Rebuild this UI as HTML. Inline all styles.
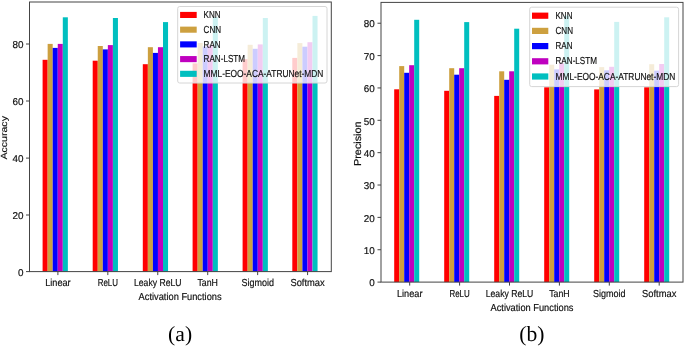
<!DOCTYPE html>
<html><head><meta charset="utf-8"><style>
html,body{margin:0;padding:0;background:#fff;}
body{width:685px;height:347px;overflow:hidden;}
svg{display:block;font-family:"Liberation Sans", sans-serif;filter:blur(0.35px);}
</style></head><body>
<svg width="685" height="347" viewBox="0 0 685 347" text-rendering="geometricPrecision">
<rect x="0" y="0" width="685" height="347" fill="#fff"/>
<rect x="42.60" y="59.80" width="5.05" height="211.80" fill="#ff0000"/>
<rect x="47.65" y="43.90" width="5.05" height="227.70" fill="#cda03f"/>
<rect x="52.70" y="47.90" width="5.05" height="223.70" fill="#0000ff"/>
<rect x="57.75" y="43.90" width="5.05" height="227.70" fill="#bf00bf"/>
<rect x="62.80" y="17.30" width="5.05" height="254.30" fill="#00bfbf"/>
<rect x="92.70" y="60.70" width="5.05" height="210.90" fill="#ff0000"/>
<rect x="97.75" y="46.00" width="5.05" height="225.60" fill="#cda03f"/>
<rect x="102.80" y="49.40" width="5.05" height="222.20" fill="#0000ff"/>
<rect x="107.85" y="45.10" width="5.05" height="226.50" fill="#bf00bf"/>
<rect x="112.90" y="18.00" width="5.05" height="253.60" fill="#00bfbf"/>
<rect x="142.80" y="64.20" width="5.05" height="207.40" fill="#ff0000"/>
<rect x="147.85" y="47.20" width="5.05" height="224.40" fill="#cda03f"/>
<rect x="152.90" y="52.90" width="5.05" height="218.70" fill="#0000ff"/>
<rect x="157.95" y="47.20" width="5.05" height="224.40" fill="#bf00bf"/>
<rect x="163.00" y="22.10" width="5.05" height="249.50" fill="#00bfbf"/>
<rect x="192.60" y="63.40" width="5.05" height="208.20" fill="#ff0000"/>
<rect x="197.65" y="43.00" width="5.05" height="228.60" fill="#cda03f"/>
<rect x="202.70" y="46.50" width="5.05" height="225.10" fill="#0000ff"/>
<rect x="207.75" y="45.10" width="5.05" height="226.50" fill="#bf00bf"/>
<rect x="212.80" y="17.10" width="5.05" height="254.50" fill="#00bfbf"/>
<rect x="242.60" y="59.20" width="5.05" height="212.40" fill="#ff0000"/>
<rect x="247.65" y="44.80" width="5.05" height="226.80" fill="#cda03f"/>
<rect x="252.70" y="48.80" width="5.05" height="222.80" fill="#0000ff"/>
<rect x="257.75" y="44.40" width="5.05" height="227.20" fill="#bf00bf"/>
<rect x="262.80" y="18.00" width="5.05" height="253.60" fill="#00bfbf"/>
<rect x="292.30" y="57.90" width="5.05" height="213.70" fill="#ff0000"/>
<rect x="297.35" y="43.10" width="5.05" height="228.50" fill="#cda03f"/>
<rect x="302.40" y="46.70" width="5.05" height="224.90" fill="#0000ff"/>
<rect x="307.45" y="42.20" width="5.05" height="229.40" fill="#bf00bf"/>
<rect x="312.50" y="15.90" width="5.05" height="255.70" fill="#00bfbf"/>
<rect x="29.5" y="2.0" width="301.8" height="269.6" fill="none" stroke="#444" stroke-width="1"/>
<line x1="26.0" y1="271.6" x2="29.5" y2="271.6" stroke="#444" stroke-width="1"/>
<text x="23.6" y="275.80" text-anchor="end" font-size="9.9" fill="#111" stroke="#111" stroke-width="0.18">0</text>
<line x1="26.0" y1="215.0" x2="29.5" y2="215.0" stroke="#444" stroke-width="1"/>
<text x="23.6" y="219.20" text-anchor="end" font-size="9.9" fill="#111" stroke="#111" stroke-width="0.18">20</text>
<line x1="26.0" y1="158.1" x2="29.5" y2="158.1" stroke="#444" stroke-width="1"/>
<text x="23.6" y="162.30" text-anchor="end" font-size="9.9" fill="#111" stroke="#111" stroke-width="0.18">40</text>
<line x1="26.0" y1="101.0" x2="29.5" y2="101.0" stroke="#444" stroke-width="1"/>
<text x="23.6" y="105.20" text-anchor="end" font-size="9.9" fill="#111" stroke="#111" stroke-width="0.18">60</text>
<line x1="26.0" y1="44.0" x2="29.5" y2="44.0" stroke="#444" stroke-width="1"/>
<text x="23.6" y="48.20" text-anchor="end" font-size="9.9" fill="#111" stroke="#111" stroke-width="0.18">80</text>
<line x1="57.9" y1="271.6" x2="57.9" y2="275.1" stroke="#444" stroke-width="1"/>
<text x="57.9" y="286.2" text-anchor="middle" font-size="10.1" fill="#111" stroke="#111" stroke-width="0.18" textLength="25.5" lengthAdjust="spacingAndGlyphs">Linear</text>
<line x1="107.84" y1="271.6" x2="107.84" y2="275.1" stroke="#444" stroke-width="1"/>
<text x="107.84" y="286.2" text-anchor="middle" font-size="10.1" fill="#111" stroke="#111" stroke-width="0.18" textLength="20.3" lengthAdjust="spacingAndGlyphs">ReLU</text>
<line x1="157.78" y1="271.6" x2="157.78" y2="275.1" stroke="#444" stroke-width="1"/>
<text x="157.78" y="286.2" text-anchor="middle" font-size="10.1" fill="#111" stroke="#111" stroke-width="0.18" textLength="47.5" lengthAdjust="spacingAndGlyphs">Leaky ReLU</text>
<line x1="207.72" y1="271.6" x2="207.72" y2="275.1" stroke="#444" stroke-width="1"/>
<text x="207.72" y="286.2" text-anchor="middle" font-size="10.1" fill="#111" stroke="#111" stroke-width="0.18" textLength="20.5" lengthAdjust="spacingAndGlyphs">TanH</text>
<line x1="257.65999999999997" y1="271.6" x2="257.65999999999997" y2="275.1" stroke="#444" stroke-width="1"/>
<text x="257.65999999999997" y="286.2" text-anchor="middle" font-size="10.1" fill="#111" stroke="#111" stroke-width="0.18" textLength="32.5" lengthAdjust="spacingAndGlyphs">Sigmoid</text>
<line x1="307.59999999999997" y1="271.6" x2="307.59999999999997" y2="275.1" stroke="#444" stroke-width="1"/>
<text x="307.59999999999997" y="286.2" text-anchor="middle" font-size="10.1" fill="#111" stroke="#111" stroke-width="0.18" textLength="34.3" lengthAdjust="spacingAndGlyphs">Softmax</text>
<text x="180.1" y="299.8" text-anchor="middle" font-size="10.1" fill="#111" stroke="#111" stroke-width="0.18" textLength="83" lengthAdjust="spacingAndGlyphs">Activation Functions</text>
<text transform="translate(7.4,137.8) rotate(-90) scale(1,0.88)" x="0" y="0" text-anchor="middle" font-size="10.1" fill="#111" stroke="#111" stroke-width="0.18" textLength="43.5" lengthAdjust="spacingAndGlyphs">Accuracy</text>
<rect x="177.7" y="6.5" width="149.3" height="76.5" rx="2" ry="2" fill="#fff" fill-opacity="0.8" stroke="#d6d6d6" stroke-width="1"/>
<rect x="180.1" y="11.90" width="16.599999999999994" height="6.1" fill="#ff0000"/>
<text x="203.6" y="18.10" font-size="10.1" fill="#111" stroke="#111" stroke-width="0.18" textLength="17" lengthAdjust="spacingAndGlyphs">KNN</text>
<rect x="180.1" y="26.62" width="16.599999999999994" height="6.1" fill="#cda03f"/>
<text x="203.6" y="32.82" font-size="10.1" fill="#111" stroke="#111" stroke-width="0.18" textLength="17.5" lengthAdjust="spacingAndGlyphs">CNN</text>
<rect x="180.1" y="41.34" width="16.599999999999994" height="6.1" fill="#0000ff"/>
<text x="203.6" y="47.54" font-size="10.1" fill="#111" stroke="#111" stroke-width="0.18" textLength="17" lengthAdjust="spacingAndGlyphs">RAN</text>
<rect x="180.1" y="56.06" width="16.599999999999994" height="6.1" fill="#bf00bf"/>
<text x="203.6" y="62.26" font-size="10.1" fill="#111" stroke="#111" stroke-width="0.18" textLength="41.5" lengthAdjust="spacingAndGlyphs">RAN-LSTM</text>
<rect x="180.1" y="70.78" width="16.599999999999994" height="6.1" fill="#00bfbf"/>
<text x="203.6" y="76.98" font-size="10.1" fill="#111" stroke="#111" stroke-width="0.18" textLength="119.8" lengthAdjust="spacingAndGlyphs">MML-EOO-ACA-ATRUNet-MDN</text>
<text x="180.1" y="341.3" text-anchor="middle" font-family='"Liberation Serif", serif' font-size="21.6" fill="#000">(a)</text>
<rect x="394.20" y="89.30" width="5.00" height="192.80" fill="#ff0000"/>
<rect x="399.20" y="66.10" width="5.00" height="216.00" fill="#cda03f"/>
<rect x="404.20" y="72.80" width="5.00" height="209.30" fill="#0000ff"/>
<rect x="409.20" y="65.20" width="5.00" height="216.90" fill="#bf00bf"/>
<rect x="414.20" y="19.80" width="5.00" height="262.30" fill="#00bfbf"/>
<rect x="444.20" y="90.80" width="5.00" height="191.30" fill="#ff0000"/>
<rect x="449.20" y="68.20" width="5.00" height="213.90" fill="#cda03f"/>
<rect x="454.20" y="74.70" width="5.00" height="207.40" fill="#0000ff"/>
<rect x="459.20" y="68.20" width="5.00" height="213.90" fill="#bf00bf"/>
<rect x="464.20" y="22.10" width="5.00" height="260.00" fill="#00bfbf"/>
<rect x="494.20" y="95.90" width="5.00" height="186.20" fill="#ff0000"/>
<rect x="499.20" y="71.30" width="5.00" height="210.80" fill="#cda03f"/>
<rect x="504.20" y="79.80" width="5.00" height="202.30" fill="#0000ff"/>
<rect x="509.20" y="71.30" width="5.00" height="210.80" fill="#bf00bf"/>
<rect x="514.20" y="28.70" width="5.00" height="253.40" fill="#00bfbf"/>
<rect x="544.20" y="87.30" width="5.00" height="194.80" fill="#ff0000"/>
<rect x="549.20" y="64.70" width="5.00" height="217.40" fill="#cda03f"/>
<rect x="554.20" y="69.40" width="5.00" height="212.70" fill="#0000ff"/>
<rect x="559.20" y="63.40" width="5.00" height="218.70" fill="#bf00bf"/>
<rect x="564.20" y="15.60" width="5.00" height="266.50" fill="#00bfbf"/>
<rect x="594.20" y="89.40" width="5.00" height="192.70" fill="#ff0000"/>
<rect x="599.20" y="67.10" width="5.00" height="215.00" fill="#cda03f"/>
<rect x="604.20" y="70.30" width="5.00" height="211.80" fill="#0000ff"/>
<rect x="609.20" y="66.80" width="5.00" height="215.30" fill="#bf00bf"/>
<rect x="614.20" y="21.90" width="5.00" height="260.20" fill="#00bfbf"/>
<rect x="644.20" y="87.30" width="5.00" height="194.80" fill="#ff0000"/>
<rect x="649.20" y="64.20" width="5.00" height="217.90" fill="#cda03f"/>
<rect x="654.20" y="70.60" width="5.00" height="211.50" fill="#0000ff"/>
<rect x="659.20" y="64.00" width="5.00" height="218.10" fill="#bf00bf"/>
<rect x="664.20" y="17.30" width="5.00" height="264.80" fill="#00bfbf"/>
<rect x="381.0" y="2.4" width="302.0" height="279.70000000000005" fill="none" stroke="#444" stroke-width="1"/>
<line x1="377.5" y1="282.1" x2="381.0" y2="282.1" stroke="#444" stroke-width="1"/>
<text x="374.8" y="286.30" text-anchor="end" font-size="9.9" fill="#111" stroke="#111" stroke-width="0.18">0</text>
<line x1="377.5" y1="249.74" x2="381.0" y2="249.74" stroke="#444" stroke-width="1"/>
<text x="374.8" y="253.94" text-anchor="end" font-size="9.9" fill="#111" stroke="#111" stroke-width="0.18">10</text>
<line x1="377.5" y1="217.38000000000002" x2="381.0" y2="217.38000000000002" stroke="#444" stroke-width="1"/>
<text x="374.8" y="221.58" text-anchor="end" font-size="9.9" fill="#111" stroke="#111" stroke-width="0.18">20</text>
<line x1="377.5" y1="185.02" x2="381.0" y2="185.02" stroke="#444" stroke-width="1"/>
<text x="374.8" y="189.22" text-anchor="end" font-size="9.9" fill="#111" stroke="#111" stroke-width="0.18">30</text>
<line x1="377.5" y1="152.66000000000003" x2="381.0" y2="152.66000000000003" stroke="#444" stroke-width="1"/>
<text x="374.8" y="156.86" text-anchor="end" font-size="9.9" fill="#111" stroke="#111" stroke-width="0.18">40</text>
<line x1="377.5" y1="120.30000000000001" x2="381.0" y2="120.30000000000001" stroke="#444" stroke-width="1"/>
<text x="374.8" y="124.50" text-anchor="end" font-size="9.9" fill="#111" stroke="#111" stroke-width="0.18">50</text>
<line x1="377.5" y1="87.94" x2="381.0" y2="87.94" stroke="#444" stroke-width="1"/>
<text x="374.8" y="92.14" text-anchor="end" font-size="9.9" fill="#111" stroke="#111" stroke-width="0.18">60</text>
<line x1="377.5" y1="55.58000000000001" x2="381.0" y2="55.58000000000001" stroke="#444" stroke-width="1"/>
<text x="374.8" y="59.78" text-anchor="end" font-size="9.9" fill="#111" stroke="#111" stroke-width="0.18">70</text>
<line x1="377.5" y1="23.220000000000027" x2="381.0" y2="23.220000000000027" stroke="#444" stroke-width="1"/>
<text x="374.8" y="27.42" text-anchor="end" font-size="9.9" fill="#111" stroke="#111" stroke-width="0.18">80</text>
<line x1="409.7" y1="282.1" x2="409.7" y2="285.6" stroke="#444" stroke-width="1"/>
<text x="409.7" y="296.9" text-anchor="middle" font-size="10.1" fill="#111" stroke="#111" stroke-width="0.18" textLength="25.5" lengthAdjust="spacingAndGlyphs">Linear</text>
<line x1="459.59999999999997" y1="282.1" x2="459.59999999999997" y2="285.6" stroke="#444" stroke-width="1"/>
<text x="459.59999999999997" y="296.9" text-anchor="middle" font-size="10.1" fill="#111" stroke="#111" stroke-width="0.18" textLength="20.3" lengthAdjust="spacingAndGlyphs">ReLU</text>
<line x1="509.5" y1="282.1" x2="509.5" y2="285.6" stroke="#444" stroke-width="1"/>
<text x="509.5" y="296.9" text-anchor="middle" font-size="10.1" fill="#111" stroke="#111" stroke-width="0.18" textLength="47.5" lengthAdjust="spacingAndGlyphs">Leaky ReLU</text>
<line x1="559.4" y1="282.1" x2="559.4" y2="285.6" stroke="#444" stroke-width="1"/>
<text x="559.4" y="296.9" text-anchor="middle" font-size="10.1" fill="#111" stroke="#111" stroke-width="0.18" textLength="20.5" lengthAdjust="spacingAndGlyphs">TanH</text>
<line x1="609.3" y1="282.1" x2="609.3" y2="285.6" stroke="#444" stroke-width="1"/>
<text x="609.3" y="296.9" text-anchor="middle" font-size="10.1" fill="#111" stroke="#111" stroke-width="0.18" textLength="32.5" lengthAdjust="spacingAndGlyphs">Sigmoid</text>
<line x1="659.2" y1="282.1" x2="659.2" y2="285.6" stroke="#444" stroke-width="1"/>
<text x="659.2" y="296.9" text-anchor="middle" font-size="10.1" fill="#111" stroke="#111" stroke-width="0.18" textLength="34.3" lengthAdjust="spacingAndGlyphs">Softmax</text>
<text x="532" y="310.8" text-anchor="middle" font-size="10.1" fill="#111" stroke="#111" stroke-width="0.18" textLength="83" lengthAdjust="spacingAndGlyphs">Activation Functions</text>
<text transform="translate(360.6,143.7) rotate(-90) scale(1,1.0)" x="0" y="0" text-anchor="middle" font-size="10.1" fill="#111" stroke="#111" stroke-width="0.18" textLength="44.5" lengthAdjust="spacingAndGlyphs">Precision</text>
<rect x="529.7" y="7.2" width="148.89999999999998" height="79.39999999999999" rx="2" ry="2" fill="#fff" fill-opacity="0.8" stroke="#d6d6d6" stroke-width="1"/>
<rect x="532.0" y="12.60" width="16.299999999999955" height="6.2" fill="#ff0000"/>
<text x="555.5" y="18.80" font-size="10.1" fill="#111" stroke="#111" stroke-width="0.18" textLength="17" lengthAdjust="spacingAndGlyphs">KNN</text>
<rect x="532.0" y="27.80" width="16.299999999999955" height="6.2" fill="#cda03f"/>
<text x="555.5" y="34.00" font-size="10.1" fill="#111" stroke="#111" stroke-width="0.18" textLength="17.5" lengthAdjust="spacingAndGlyphs">CNN</text>
<rect x="532.0" y="43.00" width="16.299999999999955" height="6.2" fill="#0000ff"/>
<text x="555.5" y="49.20" font-size="10.1" fill="#111" stroke="#111" stroke-width="0.18" textLength="17" lengthAdjust="spacingAndGlyphs">RAN</text>
<rect x="532.0" y="58.20" width="16.299999999999955" height="6.2" fill="#bf00bf"/>
<text x="555.5" y="64.40" font-size="10.1" fill="#111" stroke="#111" stroke-width="0.18" textLength="41.5" lengthAdjust="spacingAndGlyphs">RAN-LSTM</text>
<rect x="532.0" y="73.40" width="16.299999999999955" height="6.2" fill="#00bfbf"/>
<text x="555.5" y="79.60" font-size="10.1" fill="#111" stroke="#111" stroke-width="0.18" textLength="119.8" lengthAdjust="spacingAndGlyphs">MML-EOO-ACA-ATRUNet-MDN</text>
<text x="531.8" y="341.3" text-anchor="middle" font-family='"Liberation Serif", serif' font-size="21.6" fill="#000">(b)</text>
</svg>
</body></html>
